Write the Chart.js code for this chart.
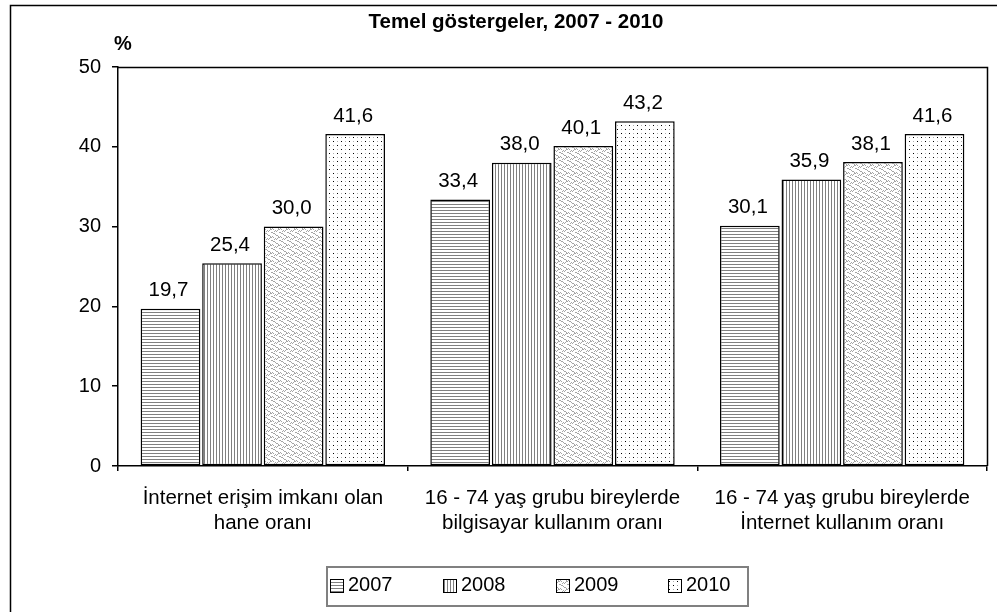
<!DOCTYPE html>
<html>
<head>
<meta charset="utf-8">
<script src="https://cdn.jsdelivr.net/npm/chart.js@4.4.1/dist/chart.umd.min.js"></script>
<style>
html,body{margin:0;padding:0;background:#fff;}
#wrap{width:997px;height:612px;position:relative;}
</style>
</head>
<body>
<div id="wrap"><canvas id="c" width="997" height="612"></canvas></div>
<script>
const categories = [
  ["İnternet erişim imkanı olan", "hane oranı"],
  ["16 - 74 yaş grubu bireylerde", "bilgisayar kullanım oranı"],
  ["16 - 74 yaş grubu bireylerde", "İnternet kullanım oranı"]
];
const seriesNames = ["2007", "2008", "2009", "2010"];
const values2007 = [19.7, 33.4, 30.1];
const values2008 = [25.4, 38.0, 35.9];
const values2009 = [30.0, 40.1, 38.1];
const values2010 = [41.6, 43.2, 41.6];
const yTicks = [0, 10, 20, 30, 40, 50];
const titleText = "Temel göstergeler, 2007 - 2010";
const unitText = "%";

const FONT = "'Liberation Sans', Arial, sans-serif";

function makePattern(kind) {
  const c = document.createElement('canvas');
  const ctx = c.getContext('2d');
  if (kind === 'h') {
    c.width = 4; c.height = 3;
    ctx.fillStyle = '#fff'; ctx.fillRect(0,0,4,3);
    ctx.fillStyle = '#808080'; ctx.fillRect(0,0,4,1);
  } else if (kind === 'v') {
    c.width = 3; c.height = 4;
    ctx.fillStyle = '#fff'; ctx.fillRect(0,0,3,4);
    ctx.fillStyle = '#808080'; ctx.fillRect(0,0,1,4);
  } else if (kind === 'x') {
    c.width = 8; c.height = 8;
    ctx.fillStyle = '#fff'; ctx.fillRect(0,0,8,8);
    ctx.fillStyle = '#a6a6a6';
    const pts = [[0,0],[1,1],[2,1],[3,2],[4,3],[5,3],[6,4],[7,5],[3,6],[2,7],[1,5],[0,4],[4,7],[5,6],[6,5],[7,0]];
    pts.forEach(p => ctx.fillRect(p[0], p[1], 1, 1));
  } else {
    c.width = 8; c.height = 8;
    ctx.fillStyle = '#fff'; ctx.fillRect(0,0,8,8);
    ctx.fillStyle = '#000';
    ctx.fillRect(1,1,1,1); ctx.fillRect(5,5,1,1);
    ctx.fillStyle = '#b0b0b0';
    ctx.fillRect(5,1,1,1); ctx.fillRect(1,5,1,1);
  }
  return document.getElementById('c').getContext('2d').createPattern(c, 'repeat');
}

const patterns = [makePattern('h'), makePattern('v'), makePattern('x'), makePattern('d')];
const seriesValues = [values2007, values2008, values2009, values2010];

const decorPlugin = {
  id: 'decor',
  afterDraw(chart) {
    const ctx = chart.ctx;
    const a = chart.chartArea;
    ctx.save();
    // outer frame
    ctx.strokeStyle = '#000'; ctx.lineWidth = 1.5;
    ctx.strokeRect(10.5, 5.5, 1000, 620);
    // plot border top/right
    ctx.beginPath();
    ctx.moveTo(a.left, a.top + 0.5); ctx.lineTo(a.right + 0.5, a.top + 0.5);
    ctx.lineTo(a.right + 0.5, a.bottom);
    ctx.stroke();
    // title
    ctx.fillStyle = '#000';
    ctx.font = "bold 20.5px " + FONT;
    ctx.textAlign = 'center'; ctx.textBaseline = 'middle';
    ctx.fillText(titleText, 516, 22);
    ctx.font = "bold 20px " + FONT;
    ctx.fillText(unitText, 123, 44);
    // data labels
    ctx.font = "20.5px " + FONT;
    ctx.textBaseline = 'middle';
    chart.data.datasets.forEach((ds, i) => {
      const meta = chart.getDatasetMeta(i);
      meta.data.forEach((bar, j) => {
        const v = ds.data[j];
        ctx.fillText(v.toFixed(1).replace('.', ','), bar.x - 2, bar.y - 18);
      });
    });
    // legend
    ctx.strokeStyle = '#808080'; ctx.lineWidth = 2;
    ctx.strokeRect(327, 567, 421, 39);
    const lx = [330, 443, 556, 668];
    ctx.font = "20px " + FONT;
    ctx.textAlign = 'left';
    seriesNames.forEach((n, i) => {
      ctx.fillStyle = patterns[i];
      ctx.fillRect(lx[i], 579, 13, 13);
      ctx.strokeStyle = '#000'; ctx.lineWidth = 1;
      ctx.strokeRect(lx[i] + 0.5, 579.5, 13, 13);
      ctx.fillStyle = '#000';
      ctx.fillText(n, lx[i] + 18, 585);
    });
    ctx.restore();
  }
};

new Chart(document.getElementById('c'), {
  type: 'bar',
  data: {
    labels: categories,
    datasets: seriesNames.map((n, i) => ({
      label: n,
      data: seriesValues[i],
      backgroundColor: patterns[i],
      borderColor: '#000',
      borderWidth: 1.5,
      borderSkipped: false,
      categoryPercentage: 0.85,
      barPercentage: 0.97
    }))
  },
  options: {
    responsive: false,
    animation: false,
    devicePixelRatio: 1,
    layout: { padding: { top: 67, right: 10, left: 0, bottom: 0 } },
    plugins: { legend: { display: false }, title: { display: false }, tooltip: { enabled: false } },
    scales: {
      x: {
        afterFit(s) { s.height = 146; },
        grid: { display: true, drawOnChartArea: false, drawTicks: true, tickLength: 5, color: '#000', lineWidth: 1.5, offset: true },
        border: { display: true, color: '#000', width: 1.5 },
        ticks: { color: '#000', font: { family: FONT, size: 20.5, lineHeight: 1.22 }, padding: 15, maxRotation: 0, autoSkip: false }
      },
      y: {
        min: 0, max: 50,
        afterFit(s) { s.width = 118; },
        afterBuildTicks(s) { s.ticks = yTicks.map(v => ({ value: v })); },
        grid: { display: true, drawOnChartArea: false, drawTicks: true, tickLength: 6, color: '#000', lineWidth: 1.5 },
        border: { display: true, color: '#000', width: 1.5 },
        ticks: { color: '#000', font: { family: FONT, size: 20 }, padding: 11 }
      }
    }
  },
  plugins: [decorPlugin]
});
</script>
</body>
</html>
